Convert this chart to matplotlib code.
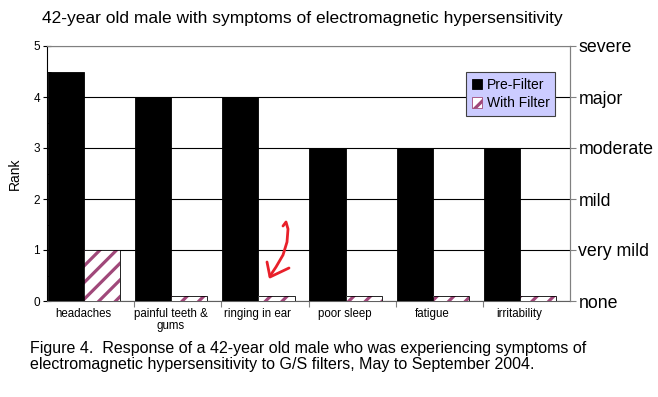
import matplotlib
matplotlib.use("Agg")
import matplotlib.pyplot as plt
from matplotlib.patches import Patch
import numpy as np

categories = ["headaches", "painful teeth &\ngums", "ringing in ear", "poor sleep", "fatigue", "irritability"]
pre_filter = [4.5, 4, 4, 3, 3, 3]
with_filter = [1, 0.1, 0.1, 0.1, 0.1, 0.1]
severity_labels = ["none", "very mild", "mild", "moderate", "major", "severe"]

plt.rcParams['font.family'] = ['Liberation Sans', 'DejaVu Sans']
plt.rcParams['hatch.linewidth'] = 2.3

W, H = 658, 397
fig = plt.figure(figsize=(W/100, H/100), dpi=100)
ax = fig.add_axes([47/W, 1-301/H, (570-47)/W, (301-46)/H])

x = np.arange(len(categories))
bw = 0.415
ax.bar(x + 0.01, pre_filter, width=bw, align='edge', color='black', edgecolor='black',
       linewidth=0.6, zorder=3)
ax.bar(x + 0.01 + bw, with_filter, width=bw, align='edge', color='white', edgecolor='#a0487a',
       linewidth=0, hatch='//', zorder=3)
ax.bar(x + 0.01 + bw, with_filter, width=bw, align='edge', fill=False, edgecolor='black',
       linewidth=0.6, zorder=4)
proxy_pre = Patch(facecolor='black', edgecolor='black', linewidth=0.6)
proxy_with = Patch(facecolor='white', edgecolor='#a0487a', hatch='//', linewidth=0.6)

ax.set_xlim(0, len(categories))
ax.set_ylim(0, 5)
ax.set_yticks(range(6))
ax.set_yticks(np.arange(0.5, 5, 1), minor=True)
ax.tick_params(axis='y', which='major', labelsize=8.5, length=6, direction='inout', color='black', pad=2)
ax.tick_params(axis='y', which='minor', length=3, direction='in', color='black')
ax.yaxis.grid(True, which='major', color='black', linewidth=0.8, zorder=0)
ax.set_axisbelow(True)

ax.set_xticks(np.arange(1, len(categories)), minor=False)
ax.set_xticklabels([])
ax.set_xticks(x + 0.42, minor=True)
ax.set_xticklabels(categories, minor=True, fontsize=8.3, linespacing=1.05)
ax.tick_params(axis='x', which='major', length=4, color='#808080')
ax.tick_params(axis='x', which='minor', length=0, pad=5)

ax.spines['left'].set_color('black')
ax.spines['bottom'].set_color('#606060')
ax.spines['right'].set_color('#808080')
ax.spines['top'].set_color('#808080')
ax.spines['top'].set_zorder(5)

ax2 = ax.twinx()
ax2.set_ylim(0, 5)
ax2.set_yticks(range(6))
ax2.set_yticklabels(severity_labels, fontsize=12.8)
ax2.tick_params(axis='y', length=4, color='#808080', pad=2)
for s in ['left', 'bottom', 'top']:
    ax2.spines[s].set_visible(False)
ax2.spines['right'].set_color('#808080')

ax.set_ylabel("Rank", fontsize=10, labelpad=8)

leg = ax2.legend([proxy_pre, proxy_with], ['Pre-Filter', 'With Filter'],
                 loc='upper left', bbox_to_anchor=((466-47)/(570-47), (301-72)/(301-46)),
                 fontsize=10, frameon=True, fancybox=False, facecolor='#ccccff',
                 edgecolor='#404040', framealpha=1, handlelength=0.75, handleheight=0.75,
                 handletextpad=0.35, borderpad=0.4, labelspacing=0.35, borderaxespad=0)
leg.get_frame().set_linewidth(0.8)

fig.text(42/W, 1-18/H, "42-year old male with symptoms of electromagnetic hypersensitivity",
         fontsize=12.5, va='center', ha='left')
fig.text(30/W, 1-348/H, "Figure 4.  Response of a 42-year old male who was experiencing symptoms of",
         fontsize=11.5, va='center', ha='left')
fig.text(30/W, 1-365/H, "electromagnetic hypersensitivity to G/S filters, May to September 2004.",
         fontsize=11.5, va='center', ha='left')

# hand-drawn red arrow annotation (figure pixel coordinates)
def fp(px, py):
    return (px/W, 1-py/H)
path = [(283, 226), (286, 222), (288, 229), (287, 242), (283, 255), (276, 267), (270, 276)]
fig.add_artist(plt.Line2D([fp(*p)[0] for p in path], [fp(*p)[1] for p in path],
                          transform=fig.transFigure, color='#e8202a', linewidth=2,
                          solid_capstyle='round', solid_joinstyle='round'))
head = [(267, 262), (270, 277), (289, 268)]
fig.add_artist(plt.Line2D([fp(*p)[0] for p in head], [fp(*p)[1] for p in head],
                          transform=fig.transFigure, color='#e8202a', linewidth=2,
                          solid_capstyle='round', solid_joinstyle='round'))

fig.savefig("out.png", dpi=100)
